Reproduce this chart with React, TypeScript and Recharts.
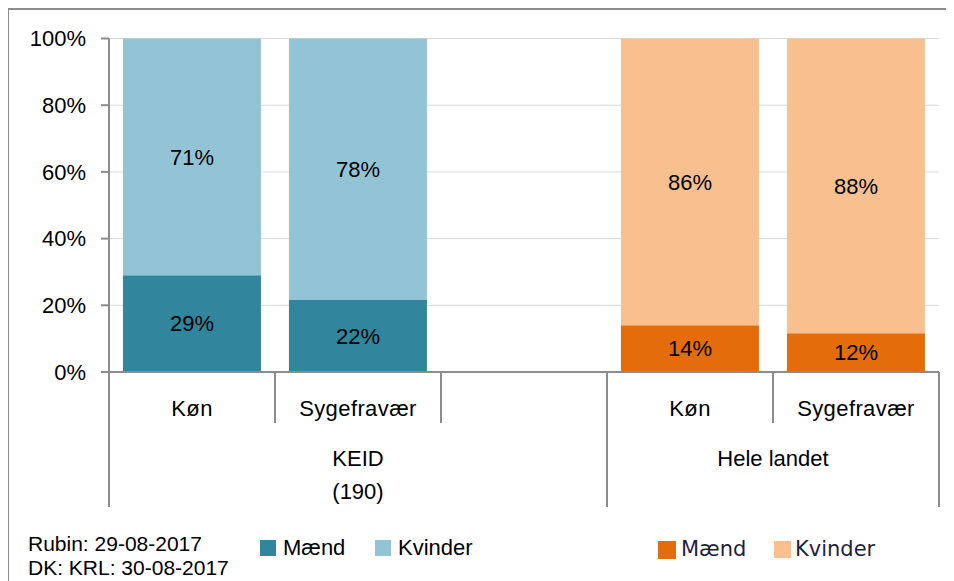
import React from 'react'
import { BarChart, Bar, XAxis, YAxis, CartesianGrid, Cell, LabelList } from 'recharts'

const categories = ['Køn', 'Sygefravær', '', 'Køn', 'Sygefravær']
const categoryGroup = [0, 0, 0, 1, 1]
const groupNames = ['KEID', 'Hele landet']
const groupSubtitles = ['(190)', '']
const maend = [29, 21.6, null, 14, 11.6]
const kvinder = [71, 78.4, null, 86, 88.4]
const yTicks = [0, 20, 40, 60, 80, 100]

const maendColors = ['#31859C', '#E46C0A']
const kvinderColors = ['#93C4D5', '#F9C08F']

const data = categories.map((category, i) => ({
  id: i,
  category,
  maend: maend[i],
  kvinder: kvinder[i],
}))

const FONT = '"Liberation Sans", Arial, sans-serif'
const AXIS = '#8c8c8c'
const CHART_W = 946
const CHART_H = 573
const MARGIN = { top: 30.5, right: 15, left: 0, bottom: 74 }
const Y_W = 101
const X_H = 135
const SLOT = (CHART_W - MARGIN.left - MARGIN.right - Y_W) / categories.length

const pct = (v: any) => (v == null || v === 0 ? '' : `${Math.round(v)}%`)

function CategoryTick(props: any) {
  const { x, y, payload } = props
  const i = payload.index
  const half = SLOT / 2
  const g = categoryGroup[i]
  const isFirst = i === 0 || categoryGroup[i - 1] !== g
  const isLast = i === categories.length - 1 || categoryGroup[i + 1] !== g
  const groupSize = categoryGroup.filter((c) => c === g).length
  const gx = x - half + (groupSize * SLOT) / 2
  return (
    <g>
      {i === 0 && (
        <line x1={x - half} x2={x - half} y1={y} y2={y + X_H} stroke={AXIS} strokeWidth={2} />
      )}
      <line x1={x + half} x2={x + half} y1={y} y2={y + (isLast ? X_H : 51)} stroke={AXIS} strokeWidth={2} />
      <text x={x} y={y + 36} textAnchor="middle" dominantBaseline="central" fontSize={22} fontFamily={FONT} fill="#000" letterSpacing={0.4}>
        {categories[i]}
      </text>
      {isFirst && (
        <text x={gx} y={y + 86} textAnchor="middle" dominantBaseline="central" fontSize={22} fontFamily={FONT} fill="#000">
          {groupNames[g]}
        </text>
      )}
      {isFirst && groupSubtitles[g] && (
        <text x={gx} y={y + 119} textAnchor="middle" dominantBaseline="central" fontSize={22} fontFamily={FONT} fill="#000">
          {groupSubtitles[g]}
        </text>
      )}
    </g>
  )
}

function LegendItem({ color, label, x, y, size, font, fontSize, textColor, gap }: any) {
  return (
    <div style={{ position: 'absolute', left: x, top: y, display: 'flex', alignItems: 'center', whiteSpace: 'nowrap' }}>
      <div style={{ width: size, height: size, background: color, marginRight: gap }} />
      <span style={{ fontFamily: font, fontSize, color: textColor, lineHeight: 1 }}>{label}</span>
    </div>
  )
}

export default function App() {
  return (
    <div style={{ position: 'relative', width: CHART_W, height: CHART_H }}>
      <div
        style={{
          position: 'absolute',
          left: -1,
          top: 0,
          width: 947,
          height: CHART_H,
          borderTop: `2px solid ${AXIS}`,
          borderLeft: `2px solid ${AXIS}`,
          boxSizing: 'border-box',
        }}
      />
      <BarChart width={CHART_W} height={CHART_H} data={data} margin={MARGIN} barCategoryGap="8.4%">
        <CartesianGrid vertical={false} stroke="#d9d9d9" strokeWidth={1} />
        <XAxis
          dataKey="id"
          height={X_H}
          interval={0}
          tickLine={false}
          tickSize={0}
          tickMargin={0}
          axisLine={{ stroke: AXIS, strokeWidth: 2 }}
          tick={(p: any) => <CategoryTick {...p} />}
        />
        <YAxis
          width={Y_W}
          domain={[0, 100]}
          ticks={yTicks}
          interval={0}
          tickFormatter={(v: number) => `${v}%`}
          tickSize={8}
          tickMargin={15}
          tickLine={{ stroke: AXIS, strokeWidth: 2 }}
          axisLine={{ stroke: AXIS, strokeWidth: 2 }}
          tick={{ fontSize: 22, fontFamily: FONT, fill: '#000' }}
        />
        <Bar dataKey="maend" name="Mænd" stackId="a" fill={maendColors[0]} isAnimationActive={false}>
          {data.map((_, i) => (
            <Cell key={`m-${i}`} fill={maendColors[categoryGroup[i]]} />
          ))}
          <LabelList dataKey="maend" position="center" formatter={pct} fill="#000" fontSize={22} fontFamily={FONT} />
        </Bar>
        <Bar dataKey="kvinder" name="Kvinder" stackId="a" fill={kvinderColors[0]} isAnimationActive={false}>
          {data.map((_, i) => (
            <Cell key={`k-${i}`} fill={kvinderColors[categoryGroup[i]]} />
          ))}
          <LabelList dataKey="kvinder" position="center" formatter={pct} fill="#000" fontSize={22} fontFamily={FONT} />
        </Bar>
      </BarChart>

      <div style={{ position: 'absolute', left: 20, top: 524, fontFamily: FONT, fontSize: 21, lineHeight: '24px', color: '#000', whiteSpace: 'nowrap' }}>
        <div>Rubin: 29-08-2017</div>
        <div>DK: KRL: 30-08-2017</div>
      </div>

      <LegendItem color={maendColors[0]} label="Mænd" x={252} y={529} size={16} gap={7} font={FONT} fontSize={22} textColor="#000" />
      <LegendItem color={kvinderColors[0]} label="Kvinder" x={367} y={529} size={16} gap={7} font={FONT} fontSize={22} textColor="#000" />
      <LegendItem color={maendColors[1]} label="Mænd" x={650} y={531} size={18} gap={5} font='"DejaVu Sans", sans-serif' fontSize={21} textColor="#1f1f3a" />
      <LegendItem color={kvinderColors[1]} label="Kvinder" x={766} y={531} size={17} gap={4} font='"DejaVu Sans", sans-serif' fontSize={21} textColor="#1f1f3a" />
    </div>
  )
}
